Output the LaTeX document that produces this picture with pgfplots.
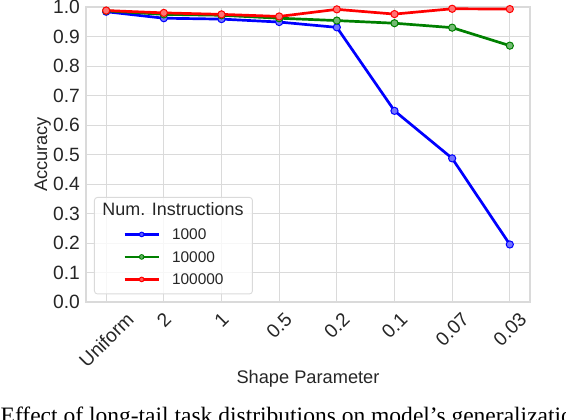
\documentclass[border=0pt]{standalone}
\usepackage{fontspec}
\setmainfont{Liberation Sans}
\newfontfamily\capfont{Liberation Serif}
\usepackage{graphicx}
\usepackage{pgfplots}
\pgfplotsset{compat=1.18}
\definecolor{labelgray}{HTML}{262626}
\definecolor{gridgray}{HTML}{DADADA}
\definecolor{mblue}{HTML}{0000FF}
\definecolor{mgreen}{HTML}{008000}
\definecolor{mred}{HTML}{FF0000}

\begin{document}
\begin{tikzpicture}
% axis box sits with its lower left corner at the origin
\begin{axis}[
  name=ax,
  width=444bp, height=295bp, scale only axis,
  xmin=-0.35, xmax=7.35,
  ymin=0, ymax=1,
  xtick={0,1,2,3,4,5,6,7},
  xticklabels={\rotatebox{45}{Uniform},\rotatebox{45}{2},\rotatebox{45}{1},\rotatebox{45}{0.5},
               \rotatebox{45}{0.2},\rotatebox{45}{0.1},\rotatebox{45}{0.07},\rotatebox{45}{0.03}},
  ytick={0,0.1,0.2,0.3,0.4,0.5,0.6,0.7,0.8,0.9,1.0},
  /pgf/number format/assume math mode=true,
  yticklabel style={/pgf/number format/fixed, /pgf/number format/fixed zerofill,
                    /pgf/number format/precision=1,
                    anchor=east, inner sep=0pt, xshift=-6bp},
  xticklabel style={anchor=north, inner sep=0pt, yshift=-9bp},
  tick label style={font=\fontsize{19.3}{21}\selectfont, text=labelgray},
  major tick length=0pt,
  axis line style={gridgray, line width=1.1bp},
  grid=major,
  grid style={gridgray, line width=0.9bp},
  xlabel={Shape Parameter},
  xlabel style={at={(axis description cs:0.5,-0.2746)}, anchor=base, inner sep=0pt,
                font=\fontsize{18.3}{20}\selectfont, text=labelgray},
  ylabel={Accuracy},
  ylabel style={at={(axis description cs:-0.0878,0.5)}, anchor=base, inner sep=0pt,
                font=\fontsize{18.3}{20}\selectfont, text=labelgray},
  legend image code/.code={\draw[mark repeat=2,mark phase=2,#1] plot coordinates {(0bp,0bp) (17bp,0bp) (34bp,0bp)};},
  legend image post style={mark size=2.3bp},
  legend cell align=left,
  legend style={at={(axis description cs:0.018,0.356)}, anchor=north west,
                draw=gridgray, line width=0.9bp, rounded corners=3bp,
                fill=white, fill opacity=0.8, text opacity=1, draw opacity=1,
                inner xsep=0pt, inner ysep=9bp, minimum width=158bp,
                row sep=11.5bp, column sep=12bp,
                font=\fontsize{15.5}{17}\selectfont, text=labelgray,
                nodes={draw=none, fill=none, minimum width=0pt, inner sep=0pt,
                       text height=11bp, text depth=0pt}},
]
% blank first row leaves room for the legend title
\addlegendimage{empty legend}
\addlegendentry{\phantom{0}}

\addplot[mblue, line width=2.7bp, mark=*, mark size=3.6bp,
         mark options={line width=1bp, fill=mblue!55!white}]
  coordinates {(0,0.984) (1,0.962) (2,0.959) (3,0.949) (4,0.931) (5,0.648) (6,0.487) (7,0.195)};
\addlegendentry{1000}

\addplot[mgreen, line width=2.7bp, mark=*, mark size=3.6bp,
         mark options={line width=1bp, fill=mgreen!55!white}]
  coordinates {(0,0.987) (1,0.975) (2,0.972) (3,0.962) (4,0.954) (5,0.945) (6,0.930) (7,0.869)};
\addlegendentry{10000}

\addplot[mred, line width=2.7bp, mark=*, mark size=3.6bp,
         mark options={line width=1bp, fill=mred!55!white}]
  coordinates {(0,0.988) (1,0.980) (2,0.975) (3,0.968) (4,0.992) (5,0.976) (6,0.994) (7,0.993)};
\addlegendentry{100000}
\end{axis}

\node[anchor=base, inner sep=0pt, font=\fontsize{18}{20}\selectfont, text=labelgray]
  at ([xshift=87bp,yshift=86bp]ax.south west) {Num. Instructions};

\node[anchor=base west, inner sep=0pt, font=\capfont\fontsize{23.6}{26}\selectfont, text=black]
  at ([xshift=-85.5bp,yshift=-121.5bp]ax.south west) {Effect of long-tail task distributions on model’s generalization};

\pgfresetboundingbox
\path[use as bounding box] ([xshift=-86bp,yshift=-118bp]ax.south west) rectangle ([xshift=480bp,yshift=302bp]ax.south west);
\end{tikzpicture}
\end{document}
